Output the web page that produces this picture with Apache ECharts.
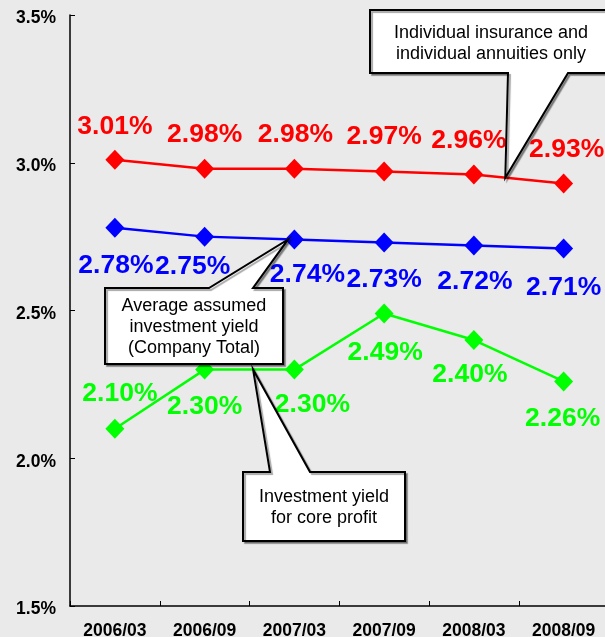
<!DOCTYPE html>
<html>
<head>
<meta charset="utf-8">
<script src="https://cdn.jsdelivr.net/npm/echarts@6/dist/echarts.min.js"></script>
<style>
  html, body { margin: 0; padding: 0; background: #eaeaea; }
  #chart { width: 605px; height: 637px; }
</style>
</head>
<body>
<div id="chart"></div>
<script>
// Half-year periods on the category axis
const categories = ['2006/03', '2006/09', '2007/03', '2007/09', '2008/03', '2008/09'];

// Yields in percent
const individualYield = [3.01, 2.98, 2.98, 2.97, 2.96, 2.93];   // individual insurance & annuities
const companyYield    = [2.78, 2.75, 2.74, 2.73, 2.72, 2.71];   // company total
const coreProfitYield = [2.10, 2.30, 2.30, 2.49, 2.40, 2.26];   // investment yield for core profit

// Value axis range and step (percent)
const yMin = 1.5;
const yMax = 3.5;
const yStep = 0.5;

// Callout texts
const calloutIndividual = 'Individual insurance and\nindividual annuities only';
const calloutCompany = 'Average assumed\ninvestment yield\n(Company Total)';
const calloutCore = 'Investment yield\nfor core profit';

// ---- layout: label offsets relative to each marker centre ----
const individualLabelOffsets = [[0, -33], [0, -34], [1, -34], [0, -35], [-5, -34], [3, -34]];
const companyLabelOffsets    = [[1, 38], [-12, 30], [13, 35], [0, 37], [1, 36], [0, 39]];
const coreLabelOffsets       = [[5, -35], [0, 37], [18, 35], [1, 39], [-4, 35], [-1, 37]];

const FONT = 'Arial, "Liberation Sans", sans-serif';

function seriesFor(name, values, color, offsets) {
  return {
    name: name,
    type: 'line',
    data: values.map((v, i) => ({
      value: v,
      label: { offset: offsets[i] }
    })),
    symbol: 'diamond',
    symbolSize: [19, 20],
    itemStyle: { color: color },
    lineStyle: { color: color, width: 2.5 },
    label: {
      show: true,
      position: 'inside',
      color: color,
      fontFamily: FONT,
      fontWeight: 'bold',
      fontSize: 26.5,
      formatter: p => p.value.toFixed(2) + '%'
    },
    animation: false
  };
}

const chart = echarts.init(document.getElementById('chart'), null, { renderer: 'canvas' });

chart.setOption({
  backgroundColor: '#eaeaea',
  animation: false,
  grid: {
    left: 70, top: 15, width: 538.5, height: 591,
    containLabel: false,
    outerBoundsMode: 'none'
  },
  xAxis: {
    type: 'category',
    data: categories,
    boundaryGap: true,
    axisLine: { lineStyle: { color: '#000', width: 1.5 } },
    axisTick: { show: true, inside: true, length: 5, lineStyle: { color: '#000', width: 1 } },
    axisLabel: { color: '#000', fontFamily: FONT, fontWeight: 'bold', fontSize: 17.5, margin: 16 },
    splitLine: { show: false }
  },
  yAxis: {
    type: 'value',
    min: yMin,
    max: yMax,
    interval: yStep,
    axisLine: { show: true, lineStyle: { color: '#000', width: 1.5 } },
    axisTick: { show: true, inside: true, length: 5, lineStyle: { color: '#000', width: 1 } },
    axisLabel: {
      color: '#000', fontFamily: FONT, fontWeight: 'bold', fontSize: 17.5, margin: 14,
      verticalAlign: 'top',
      lineHeight: 7,
      formatter: v => v.toFixed(1) + '%'
    },
    splitLine: { show: false }
  },
  series: [
    seriesFor('Individual insurance and individual annuities only', individualYield, '#ff0000', individualLabelOffsets),
    seriesFor('Average assumed investment yield (Company Total)', companyYield, '#0000ff', companyLabelOffsets),
    seriesFor('Investment yield for core profit', coreProfitYield, '#00ff00', coreLabelOffsets)
  ]
});

// Pixel position of a point on a series, interpolated between two categories
function pointOn(values, i, t) {
  const a = chart.convertToPixel({ gridIndex: 0 }, [i, values[i]]);
  const b = chart.convertToPixel({ gridIndex: 0 }, [i + 1, values[i + 1]]);
  return [a[0] + (b[0] - a[0]) * t, a[1] + (b[1] - a[1]) * t];
}

// Speech-bubble outline: rectangle with a pointer leaving one edge
function bubble(x0, y0, x1, y1, edge, a, b, tip) {
  if (edge === 'bottom') {
    return [[x0, y0], [x1, y0], [x1, y1], [b, y1], tip, [a, y1], [x0, y1]];
  }
  return [[x0, y0], [a, y0], tip, [b, y0], [x1, y0], [x1, y1], [x0, y1]];
}

function callout(box, edge, base, tip, text, dy) {
  return [
    {
      type: 'polygon',
      z: 100,
      shape: { points: bubble(box[0], box[1], box[2], box[3], edge, base[0], base[1], tip) },
      style: {
        fill: '#ffffff', stroke: '#000000', lineWidth: 2,
        shadowColor: 'rgba(0,0,0,0.35)', shadowOffsetX: 2, shadowOffsetY: 2, shadowBlur: 1
      }
    },
    {
      type: 'text',
      z: 101,
      style: {
        text: text,
        x: (box[0] + box[2]) / 2,
        y: (box[1] + box[3]) / 2 + dy,
        textAlign: 'center',
        textVerticalAlign: 'middle',
        font: '18px ' + FONT,
        lineHeight: 21,
        fill: '#000'
      }
    }
  ];
}

const tipIndividual = pointOn(individualYield, 4, 0.35);
const tipCompany = pointOn(companyYield, 1, 0.93);
const tipCore = pointOn(coreProfitYield, 1, 0.54);

chart.setOption({
  graphic: [].concat(
    callout([370, 10, 612, 73], 'bottom', [508, 568], tipIndividual, calloutIndividual, 2),
    callout([105, 288, 283, 364], 'top', [209, 253], tipCompany, calloutCompany, 1),
    callout([243, 472, 405, 541], 'top', [270, 310], tipCore, calloutCore, 1)
  )
});
</script>
</body>
</html>
